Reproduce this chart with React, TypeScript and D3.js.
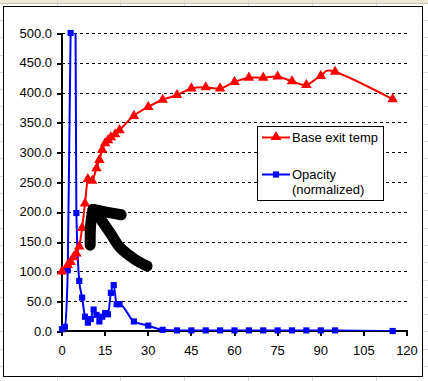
import React from "react";
import * as d3 from "d3";

const xTicks = [0, 15, 30, 45, 60, 75, 90, 105, 120];
const yTicks = [0, 50, 100, 150, 200, 250, 300, 350, 400, 450, 500];

const tempTime = [0, 2, 3, 4, 5, 6, 7, 8, 9, 10.5, 12, 13, 14, 15, 16, 17, 18.5, 20, 25, 30, 35, 40, 45, 50, 55, 60, 65, 70, 75, 80, 85, 90, 95, 115];
const tempValues = [100, 111, 116, 124, 130, 142, 173, 214, 255, 252, 273, 287, 304, 315, 320, 325, 330, 337, 361, 376, 388, 396, 407, 409, 407, 418, 425, 425, 427, 419, 413, 428, 435, 389];

// t=4 value is off the top of the axis (line clipped, no marker shown)
const opTime = [0, 1, 2, 3, 4, 5, 6, 7, 8, 9, 10, 11, 12, 13, 14, 15, 16, 17, 18, 19, 20, 25, 30, 35, 40, 45, 50, 55, 60, 65, 70, 75, 80, 85, 90, 95, 115];
const opValues = [3, 7, 102, 500, 1200, 198, 84, 56, 24, 14, 20, 36, 27, 16, 24, 30, 28, 64, 77, 45, 45, 16, 9, 2, 1, 1, 1, 1, 1, 1, 1, 1, 1, 1, 1, 1, 0];

// hand-drawn arrow annotation (in data units)
const arrowArm1 = [[20.6, 195], [15, 200], [10.8, 204]];
const arrowArm2 = [[10.8, 204], [10, 180], [9.8, 144]];
const arrowShaft = [[12.2, 196], [16.7, 165], [20.2, 140], [25.4, 120], [29.6, 109]];

const seriesNames = ["Base exit temp", "Opacity", "(normalized)"];

export default function App() {
  const W = 428, H = 381;
  const x = d3.scaleLinear().domain([0, 120]).range([62, 407]);
  const y = d3.scaleLinear().domain([0, 500]).range([331, 33]);

  const tempLine = d3.line<[number, number]>().x(d => x(d[0])).y(d => y(d[1])).curve(d3.curveCatmullRom.alpha(0));
  const opLine = d3.line<[number, number]>().x(d => x(d[0])).y(d => y(d[1])).curve(d3.curveMonotoneX);
  const tempData = tempTime.map((t, i) => [t, tempValues[i]] as [number, number]);
  const opData = opTime.map((t, i) => [t, opValues[i]] as [number, number]);

  const tri = d3.symbol().type(d3.symbolTriangle).size(48)()!;
  const sq = d3.symbol().type(d3.symbolSquare).size(38)()!;

  const scribble = d3.line<number[]>().x(d => x(d[0])).y(d => y(d[1])).curve(d3.curveCatmullRom);

  const rows: number[] = [];
  for (let r = 20; r < H; r += 17.3) rows.push(Math.round(r) + 0.5);
  const cols = [57, 120, 184, 248, 312, 376].map(c => c + 0.5);

  return (
    <svg width={W} height={H} style={{ position: "absolute", left: 0, top: 0 }} fontFamily="Liberation Sans, Arial, sans-serif">
      <rect width={W} height={H} fill="#fff" />
      <rect width={W} height={3} fill="#ECE9D8" />
      {rows.map((r, i) => <line key={"r" + i} x1={0} x2={W} y1={r} y2={r} stroke="#D8D8D8" />)}
      {cols.map((c, i) => <line key={"c" + i} x1={c} x2={c} y1={0} y2={H} stroke="#D8D8D8" />)}
      <line x1={0} x2={W} y1={3.5} y2={3.5} stroke="#C8C4B0" />
      <rect x={3.5} y={6.5} width={419} height={370} fill="#fff" stroke="#000" />
      <defs>
        <clipPath id="plot"><rect x={62} y={33} width={345} height={298} /></clipPath>
      </defs>
      {yTicks.filter(v => v > 0).map(v => (
        <line key={"g" + v} x1={62} x2={407} y1={Math.round(y(v)) + 0.5} y2={Math.round(y(v)) + 0.5} stroke="#000" strokeDasharray="3,3" shapeRendering="crispEdges" />
      ))}
      {yTicks.map(v => (
        <g key={"y" + v}>
          <line x1={57} x2={62} y1={Math.round(y(v)) + 0.5} y2={Math.round(y(v)) + 0.5} stroke="#000" strokeWidth={2} shapeRendering="crispEdges" />
          <text x={52} y={y(v) + 4.5} textAnchor="end" fontSize={13}>{v.toFixed(1)}</text>
        </g>
      ))}
      {xTicks.map(v => (
        <g key={"x" + v}>
          <line x1={x(v)} x2={x(v)} y1={331} y2={336} stroke="#000" strokeWidth={2} shapeRendering="crispEdges" />
          <text x={x(v)} y={355} textAnchor="middle" fontSize={13}>{v}</text>
        </g>
      ))}
      <line x1={62} x2={62} y1={33} y2={332} stroke="#000" strokeWidth={2} shapeRendering="crispEdges" />
      <line x1={61} x2={408} y1={331} y2={331} stroke="#000" strokeWidth={2} shapeRendering="crispEdges" />
      <g clipPath="url(#plot)">
        <path d={opLine(opData)!} fill="none" stroke="#0000FF" strokeWidth={2} />
        <path d={tempLine(tempData)!} fill="none" stroke="#FF0000" strokeWidth={2} />
      </g>
      {opData.filter(d => d[1] <= 500).map((d, i) => <path key={"o" + i} d={sq} transform={`translate(${x(d[0])},${y(d[1])})`} fill="#0000FF" />)}
      {tempData.map((d, i) => <path key={"t" + i} d={tri} transform={`translate(${x(d[0])},${y(d[1])})`} fill="#FF0000" />)}
      {[arrowArm1, arrowArm2, arrowShaft].map((p, i) => (
        <path key={"s" + i} d={scribble(p)!} fill="none" stroke="#000" strokeWidth={11} strokeLinecap="round" strokeLinejoin="round" />
      ))}
      <rect x={257.5} y={126.5} width={126} height={74} fill="#fff" stroke="#000" />
      <line x1={262} x2={290} y1={137.5} y2={137.5} stroke="#FF0000" strokeWidth={2} />
      <path d={tri} transform="translate(276,137)" fill="#FF0000" />
      <text x={292} y={142} fontSize={13}>{seriesNames[0]}</text>
      <line x1={262} x2={290} y1={174.5} y2={174.5} stroke="#0000FF" strokeWidth={2} />
      <path d={sq} transform="translate(276,174.5)" fill="#0000FF" />
      <text x={292} y={179} fontSize={13}>{seriesNames[1]}</text>
      <text x={292} y={194} fontSize={13}>{seriesNames[2]}</text>
    </svg>
  );
}
